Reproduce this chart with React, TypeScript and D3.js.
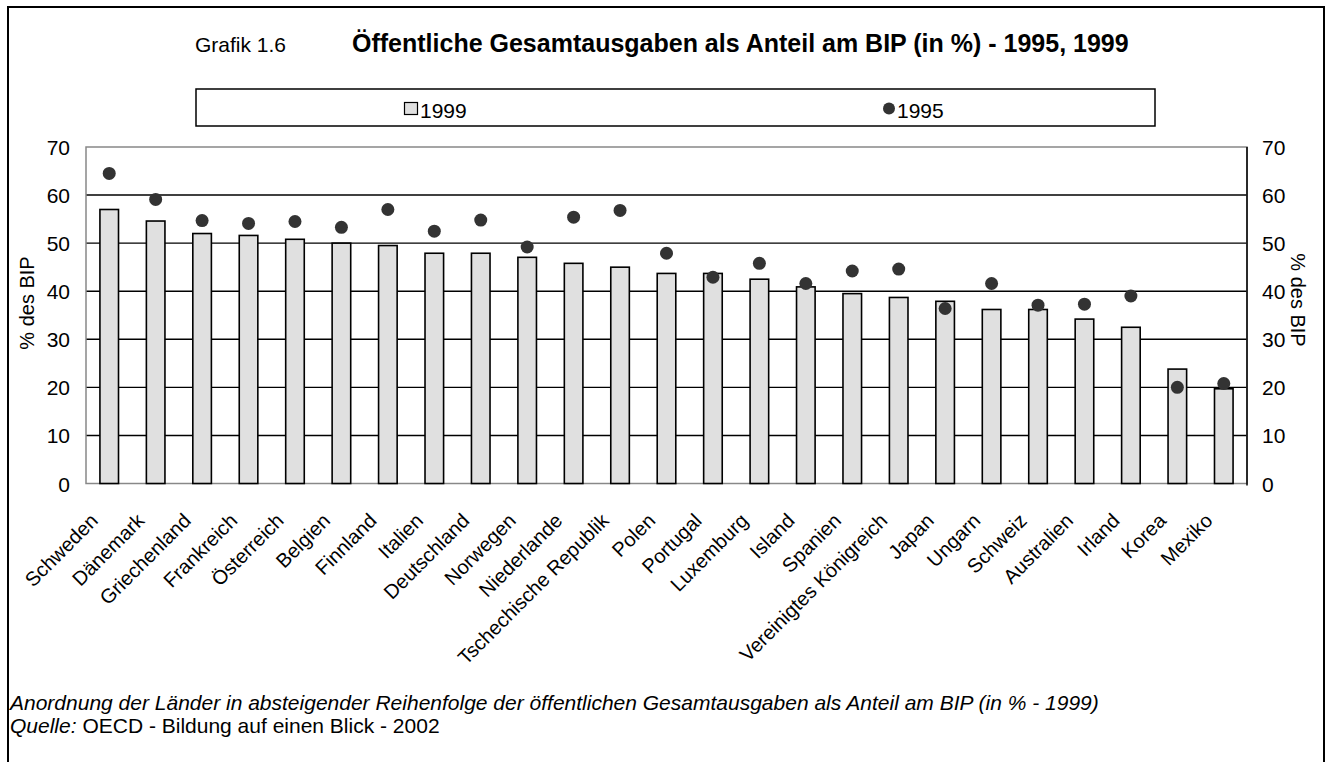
import React from "react";
import * as d3 from "d3";

const categories = [
  "Schweden", "Dänemark", "Griechenland", "Frankreich", "Österreich", "Belgien",
  "Finnland", "Italien", "Deutschland", "Norwegen", "Niederlande",
  "Tschechische Republik", "Polen", "Portugal", "Luxemburg", "Island", "Spanien",
  "Vereinigtes Königreich", "Japan", "Ungarn", "Schweiz", "Australien", "Irland",
  "Korea", "Mexiko",
];
const values1999 = [
  57.0, 54.6, 52.0, 51.6, 50.8, 50.0, 49.5, 47.9, 47.9, 47.05, 45.8, 45.0, 43.7,
  43.7, 42.5, 40.9, 39.5, 38.7, 37.9, 36.2, 36.2, 34.2, 32.5, 23.8, 19.7,
];
const values1995 = [
  64.5, 59.1, 54.7, 54.1, 54.5, 53.3, 57.0, 52.5, 54.8, 49.2, 55.4, 56.8, 47.9,
  42.9, 45.8, 41.6, 44.2, 44.6, 36.4, 41.6, 37.1, 37.3, 39.0, 20.0, 20.8,
];
const yTicks = [0, 10, 20, 30, 40, 50, 60, 70];
const titleLabel = "Grafik 1.6";
const titleText = "Öffentliche Gesamtausgaben als Anteil am BIP (in %) - 1995, 1999";
const axisLabel = "% des BIP";
const legendLabels = ["1999", "1995"];
const footnote =
  "Anordnung der Länder in absteigender Reihenfolge der öffentlichen Gesamtausgaben als Anteil am BIP (in % - 1999)";
const sourceLabel = "Quelle:";
const sourceText = "OECD - Bildung auf einen Blick - 2002";

const FONT = "'Liberation Sans', Arial, Helvetica, sans-serif";

export default function App() {
  const W = 1330;
  const H = 762;
  const plot = { left: 86, right: 1247, top: 147, bottom: 483.5 };

  const x = d3
    .scaleBand<string>()
    .domain(categories)
    .range([plot.left, plot.right])
    .paddingInner(0.6)
    .paddingOuter(0.3);
  const y = d3.scaleLinear().domain([0, 70]).range([plot.bottom, plot.top]);
  const bw = x.bandwidth();

  return (
    <svg
      width={W}
      height={H}
      viewBox={`0 0 ${W} ${H}`}
      style={{ position: "absolute", left: 0, top: 0, background: "#fff" }}
      fontFamily={FONT}
    >
      <rect x={0} y={0} width={W} height={H} fill="#fff" />
      {/* outer frame */}
      <rect x={8} y={7} width={1316} height={800} fill="none" stroke="#000" strokeWidth={2} />

      {/* title */}
      <text x={195} y={52} fontSize={21} fill="#000">{titleLabel}</text>
      <text x={352} y={52} fontSize={25} fontWeight="bold" fill="#000">{titleText}</text>

      {/* legend */}
      <rect x={196} y={89} width={959} height={37} fill="#fff" stroke="#000" strokeWidth={1.5} />
      <rect x={404.5} y={102.5} width={13} height={12} fill="#e0e0e0" stroke="#000" strokeWidth={1.2} />
      <text x={420} y={118} fontSize={21} fill="#000">{legendLabels[0]}</text>
      <circle cx={889} cy={108.5} r={6} fill="#333" />
      <text x={897} y={118} fontSize={21} fill="#000">{legendLabels[1]}</text>

      {/* gridlines */}
      {yTicks.filter((t) => t > 0 && t < 70).map((t) => (
        <line key={"g" + t} x1={plot.left} x2={plot.right} y1={y(t)} y2={y(t)} stroke="#000" strokeWidth={1.4} />
      ))}
      {/* plot border (gray) */}
      <rect
        x={plot.left}
        y={plot.top}
        width={plot.right - plot.left}
        height={plot.bottom - plot.top}
        fill="none"
        stroke="#888"
        strokeWidth={1.5}
      />
      {/* right axis */}
      <line x1={plot.right} x2={plot.right} y1={plot.top} y2={plot.bottom + 2} stroke="#000" strokeWidth={1.5} />

      {/* bars */}
      {categories.map((c, i) => (
        <rect
          key={"b" + c}
          x={x(c)!}
          y={y(values1999[i])}
          width={bw}
          height={y(0) - y(values1999[i])}
          fill="#e0e0e0"
          stroke="#000"
          strokeWidth={1.6}
        />
      ))}
      {/* dots */}
      {categories.map((c, i) => (
        <circle key={"d" + c} cx={x(c)! + bw / 2} cy={y(values1995[i])} r={6.5} fill="#333" />
      ))}

      {/* left ticks */}
      {yTicks.map((t) => (
        <text key={"l" + t} x={70} y={y(t) + 8} fontSize={21} textAnchor="end" fill="#000">{t}</text>
      ))}
      {/* right ticks */}
      {yTicks.map((t) => (
        <text key={"r" + t} x={1262} y={y(t) + 8} fontSize={21} textAnchor="start" fill="#000">{t}</text>
      ))}

      {/* axis labels */}
      <text transform={`translate(34,303) rotate(-90)`} fontSize={20} textAnchor="middle" fill="#000">{axisLabel}</text>
      <text transform={`translate(1291,300) rotate(90)`} fontSize={20} textAnchor="middle" fill="#000">{axisLabel}</text>

      {/* category labels */}
      {categories.map((c) => {
        const cx = x(c)! + bw / 2;
        return (
          <text
            key={"c" + c}
            transform={`translate(${cx - 10},522) rotate(-45)`}
            fontSize={20}
            textAnchor="end"
            fill="#000"
          >
            {c}
          </text>
        );
      })}

      {/* footer */}
      <text x={10} y={710} fontSize={21} fontStyle="italic" fill="#000">{footnote}</text>
      <text x={10} y={733} fontSize={21} fill="#000">
        <tspan fontStyle="italic">{sourceLabel}</tspan>
        <tspan> {sourceText}</tspan>
      </text>
    </svg>
  );
}
